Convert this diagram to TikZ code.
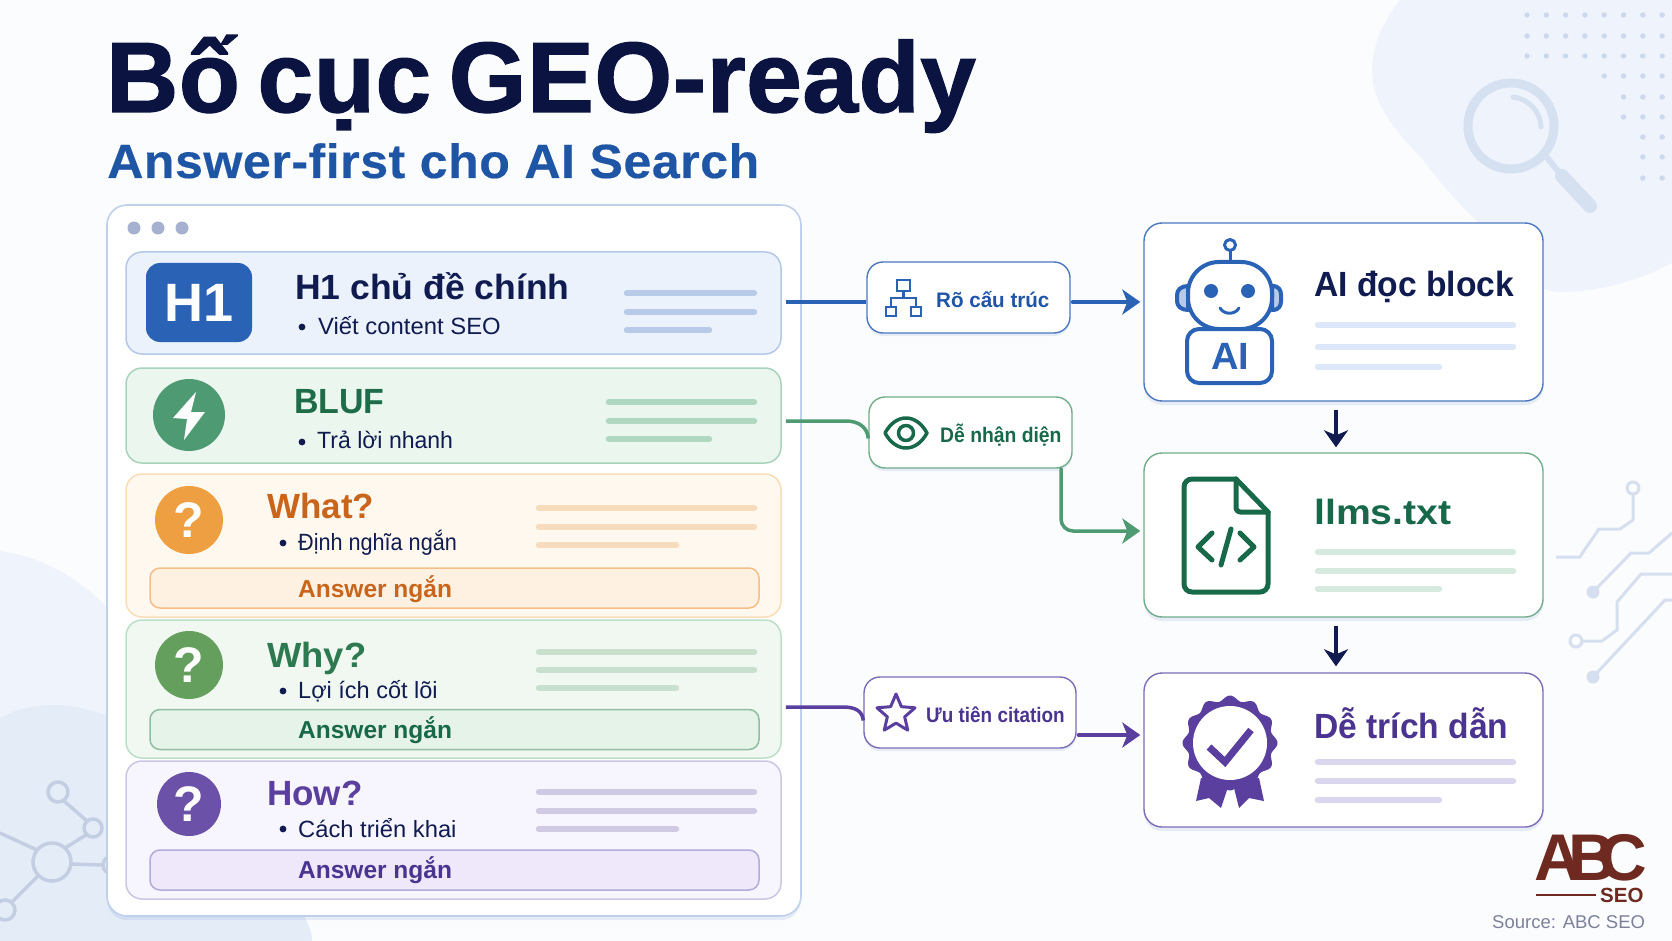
\documentclass[tikz,border=0pt]{standalone}
\usepackage{fontspec}
\setmainfont{Liberation Sans}
\newfontfamily\titlefont[BoldFeatures={FakeBold=1.3},WordSpace=0.62,LetterSpace=0.6]{Liberation Sans}
\newfontfamily\subtfont[BoldFeatures={FakeBold=0.3},LetterSpace=1]{Liberation Sans}
\usetikzlibrary{arrows.meta,calc,shadows,shapes.geometric}
\definecolor{bgc}{HTML}{FBFCFE}
\definecolor{ink}{HTML}{0B1340}
\definecolor{navy}{HTML}{101B50}
\definecolor{blueM}{HTML}{1F55A5}
\definecolor{blueI}{HTML}{2A62B5}
\definecolor{greenD}{HTML}{17694A}
\definecolor{purpD}{HTML}{4A3490}
\definecolor{purpI}{HTML}{5A3F9E}
\definecolor{deco}{HTML}{D6DFEF}
\definecolor{netc}{HTML}{C3CEE3}
\definecolor{brick}{HTML}{6E2A20}
\definecolor{srcc}{HTML}{7C809B}
\definecolor{blobA}{HTML}{EFF4FC}
\definecolor{blobB}{HTML}{E4ECF8}
\definecolor{dotc}{HTML}{CBD8EE}
\definecolor{magc}{HTML}{D5E0F0}
\definecolor{carde}{HTML}{BFD0EA}
\definecolor{dotg}{HTML}{A5B1CE}
\definecolor{b1}{HTML}{EBF2FC}\definecolor{b2}{HTML}{B4C9E8}\definecolor{b3}{HTML}{B7CBE8}\definecolor{b4}{HTML}{DCE7F7}
\definecolor{g1}{HTML}{EBF6EF}\definecolor{g2}{HTML}{AAD3BC}\definecolor{g3}{HTML}{B0D7C0}\definecolor{g4}{HTML}{4E9A72}\definecolor{g5}{HTML}{1F6D48}\definecolor{g6}{HTML}{D6EADD}
\definecolor{o1}{HTML}{FFF8EF}\definecolor{o2}{HTML}{F9DDB8}\definecolor{o3}{HTML}{F6DCBC}\definecolor{o4}{HTML}{EE9F42}\definecolor{o5}{HTML}{C9651B}\definecolor{o6}{HTML}{FFF1E2}\definecolor{o7}{HTML}{F6BE85}
\definecolor{w1}{HTML}{F0F8F1}\definecolor{w2}{HTML}{BDDFC8}\definecolor{w3}{HTML}{C9E0CF}\definecolor{w4}{HTML}{649F5D}\definecolor{w5}{HTML}{2E7A50}\definecolor{w6}{HTML}{E6F3E8}\definecolor{w7}{HTML}{8FBFA2}
\definecolor{p1}{HTML}{F7F5FD}\definecolor{p2}{HTML}{CCC5E5}\definecolor{p3}{HTML}{D0C9E4}\definecolor{p4}{HTML}{6B52A8}\definecolor{p6}{HTML}{EEE8FA}\definecolor{p7}{HTML}{B3ABD8}\definecolor{p8}{HTML}{DAD6EE}
\definecolor{sg}{HTML}{70AD8A}\definecolor{sp}{HTML}{7D6CB5}\definecolor{sb}{HTML}{4B77BF}
\newcommand{\tl}[7]{% x1 x2 xshort y1 y2 y3 colour
  \draw[#7,line cap=round,line width=6.5pt] (#1,#4)--(#2,#4) (#1,#5)--(#2,#5) (#1,#6)--(#3,#6);}
\newcommand{\blt}[2]{\fill[navy] (#1,#2) circle (3.4);}
\begin{document}
\begin{tikzpicture}[x=1pt,y=-1pt,
  lbl/.style={anchor=base west,inner sep=0pt},
  ttl/.style={lbl,font=\bfseries\fontsize{35}{35}\selectfont},
  sub/.style={lbl,text=navy,font=\fontsize{23.5}{24}\selectfont},
  ans/.style={lbl,font=\bfseries\fontsize{24.5}{25}\selectfont},
  pilltxt/.style={lbl,font=\bfseries\fontsize{21}{22}\selectfont},
  qmark/.style={inner sep=0pt,text=white,font=\bfseries\fontsize{50}{50}\selectfont},
  rowbox/.style={rounded corners=16pt,minimum width=655pt,inner sep=0pt,line width=1.5pt},
  ansbox/.style={rounded corners=10pt,minimum width=609pt,minimum height=40pt,inner sep=0pt,line width=1.5pt},
  sidebox/.style={rounded corners=18pt,minimum width=399pt,inner sep=0pt,fill=white,line width=1.4pt,
     drop shadow={shadow xshift=0pt,shadow yshift=-4pt,opacity=.10,fill=blueI}},
  pill/.style={rounded corners=16pt,minimum height=71pt,inner sep=0pt,fill=white,line width=1.4pt,
     drop shadow={shadow xshift=0pt,shadow yshift=-3pt,opacity=.10,fill=blueI}},
  bar/.style={line cap=round,-{Stealth[length=18pt,width=25pt,inset=5pt]}},
  down/.style={navy,line width=3.2pt,-{Stealth[length=17pt,width=24pt,inset=5pt]}},
]
\useasboundingbox (0,0) rectangle (1672,941);
\fill[bgc] (0,0) rectangle (1672,941);
% background blobs
\fill[blobA] (1400,0) .. controls (1380,25) and (1372,50) .. (1372,70)
  .. controls (1372,105) and (1395,130) .. (1423,160)
  .. controls (1440,182) and (1455,200) .. (1476,220)
  .. controls (1505,260) and (1530,292) .. (1560,292)
  .. controls (1600,292) and (1640,280) .. (1672,263) -- (1672,0) -- cycle;
\fill[blobA] (0,551) .. controls (40,556) and (80,578) .. (107,608) -- (130,941) -- (0,941) -- cycle;
\fill[blobB] (0,718) .. controls (18,708) and (36,705) .. (53,705)
  .. controls (120,705) and (200,760) .. (280,880)
  .. controls (300,910) and (312,925) .. (312,941) -- (0,941) -- cycle;
% dots
\foreach \yy/\first in {15/0,36/0,56/0,76/4,97/5,117/5,137/6,157/6,178/6}{
  \foreach \i in {\first,...,7}{\fill[dotc] ({1527+19.3*\i},\yy) circle (2.7);}}
% magnifier
\begin{scope}[draw=magc]
\draw[line width=9pt] (1511,126) circle (43);
\draw[line width=6pt] (1545,155) -- (1562,176);
\draw[line width=14pt,line cap=round] (1562,176) -- (1590,206);
\draw[line width=5pt,line cap=round] (1513,97) .. controls (1528,99) and (1540,110) .. (1541,127);
\end{scope}
% circuit
\begin{scope}[deco,line width=3pt,line join=round]
\draw (1633,488) circle (6);
\draw (1633,494) -- (1633,520) -- (1620,529) -- (1599,529) -- (1583,552) -- (1580,557) -- (1556,557);
\fill (1593,592) circle (6.5);
\draw (1593,592) -- (1631,553) -- (1649,553) -- (1672,533);
\draw (1576,641) circle (6);
\draw (1582,641) -- (1602,641) -- (1617,630) -- (1617,602) -- (1641,574) -- (1672,574);
\fill (1593,677) circle (6.5);
\draw (1593,677) -- (1665,600) -- (1672,600);
\end{scope}
% network
\begin{scope}[draw=netc,line width=3.5pt]
\draw (58,792) circle (10);
\draw (93,828) circle (9);
\draw (52,862) circle (19);
\draw (5,910) circle (10);
\draw (64,801) -- (87,821);
\draw (86,835) -- (65,848);
\draw (0,833) -- (37,850);
\draw (71,864) -- (103,865);
\draw (38,876) -- (12,902);
\draw (112,865) circle (9);
\end{scope}
% titles
\node[lbl,text=ink,font=\titlefont\bfseries\fontsize{100}{100}\selectfont] (title) at (106,112) {Bố cục GEO-ready};
\node[lbl,text=blueM,font=\subtfont\bfseries\fontsize{48}{48}\selectfont] (subtitle) at (107,178) {\scalebox{1.045}[1]{Answer-first cho AI Search}};
% card
\node[rounded corners=20pt,minimum width=694pt,minimum height=711pt,inner sep=0pt,fill=white,draw=carde,line width=1.6pt,
  drop shadow={shadow xshift=0pt,shadow yshift=-4pt,opacity=.10,fill=blueI}] (card) at (454,560.5) {};
\foreach \x in {134,158,182}{\fill[dotg] (\x,228) circle (6.5);}
% row 1
\node[rowbox,minimum height=102pt,fill=b1,draw=b2] (row1) at (453.5,303) {};
\node[rounded corners=14pt,minimum width=106pt,minimum height=79pt,inner sep=0pt,fill=blueI,text=white,font=\bfseries\fontsize{54}{54}\selectfont] (h1) at (199,302.5) {H1};
\node[ttl,text=navy] (t1) at (295,299.5) {\scalebox{1.015}[1]{H1 chủ đề chính}};
\blt{302}{327}
\node[sub] (s1) at (318,334) {\scalebox{1.015}[1]{Viết content SEO}};
\tl{627}{754}{709}{293}{312}{330}{b3}
% row 2
\node[rowbox,minimum height=95pt,fill=g1,draw=g2] (row2) at (453.5,415.5) {};
\node[circle,minimum size=72pt,inner sep=0pt,fill=g4] (bolt) at (189,415) {};
\fill[white,line join=round] (196,392) -- (173,418) -- (187,419) -- (184,440) -- (205,412) -- (191,412) -- cycle;
\node[ttl,text=g5] (t2) at (294,413) {\scalebox{.97}[1]{BLUF}};
\blt{302}{442}
\node[sub] (s2) at (317,448) {\scalebox{.98}[1]{Trả lời nhanh}};
\tl{609}{754}{709}{402}{421}{439}{g3}
% row 3
\node[rowbox,minimum height=143pt,fill=o1,draw=o2] (row3) at (453.5,545.5) {};
\node[circle,minimum size=68pt,fill=o4,qmark] (q3) at (189,520) {?};
\node[ttl,text=o5] (t3) at (267,518) {What?};
\blt{283}{543}
\node[sub] (s3) at (298,550) {\scalebox{.92}[1]{Định nghĩa ngắn}};
\tl{539}{754}{676}{508}{527}{545}{o3}
\node[ansbox,fill=o6,draw=o7] (a3) at (454.5,588) {};
\node[ans,text=o5] (at3) at (298,597) {Answer ngắn};
% row 4
\node[rowbox,minimum height=138pt,fill=w1,draw=w2] (row4) at (453.5,689) {};
\node[circle,minimum size=68pt,fill=w4,qmark] (q4) at (189,665) {?};
\node[ttl,text=w5] (t4) at (267,667) {\scalebox{1.04}[1]{Why?}};
\blt{283}{691}
\node[sub] (s4) at (298,698) {Lợi ích cốt lõi};
\tl{539}{754}{676}{652}{670}{688}{w3}
\node[ansbox,fill=w6,draw=w7] (a4) at (454.5,729.5) {};
\node[ans,text=greenD] (at4) at (298,738) {Answer ngắn};
% row 5
\node[rowbox,minimum height=138pt,fill=p1,draw=p2] (row5) at (453.5,830) {};
\node[circle,minimum size=64pt,fill=p4,qmark] (q5) at (189,804) {?};
\node[ttl,text=purpI] (t5) at (267,805) {How?};
\blt{283}{829}
\node[sub] (s5) at (298,837) {\scalebox{1.01}[1]{Cách triển khai}};
\tl{539}{754}{676}{792}{811}{829}{p3}
\node[ansbox,fill=p6,draw=p7] (a5) at (454.5,870) {};
\node[ans,text=purpD] (at5) at (298,878) {Answer ngắn};
% side boxes
\node[sidebox,minimum height=178pt,draw=sb] (box1) at (1343.5,312) {};
\node[sidebox,minimum height=164pt,draw=sg] (box2) at (1343.5,535) {};
\node[sidebox,minimum height=154pt,draw=sp] (box3) at (1343.5,750) {};
\node[ttl,text=navy] (bt1) at (1314,296) {\scalebox{.96}[1]{AI đọc block}};
\node[ttl,text=greenD] (bt2) at (1314,524) {\scalebox{1.12}[1]{llms.txt}};
\node[ttl,text=purpD] (bt3) at (1314,738) {\scalebox{.96}[1]{Dễ trích dẫn}};
\tl{1318}{1513}{1439}{325}{347}{367}{b4}
\tl{1318}{1513}{1439}{552}{571}{589}{g6}
\tl{1318}{1513}{1439}{762}{781}{800}{p8}
% pills
\node[pill,minimum width=203pt,draw=sb] (pill1) at (968.5,297.5) {};
\node[pill,minimum width=203pt,draw=sg] (pill2) at (970.5,432.5) {};
\node[pill,minimum width=212pt,draw=sp] (pill3) at (970,712.5) {};
\node[pilltxt,text=blueM] (pt1) at (936,307) {\scalebox{.98}[1]{Rõ cấu trúc}};
\node[pilltxt,text=greenD] (pt2) at (940,442) {\scalebox{.92}[1]{Dễ nhận diện}};
\node[pilltxt,text=purpD] (pt3) at (926,722) {\scalebox{.9}[1]{Ưu tiên citation}};
% connectors
\draw[blueI,line width=4pt] ([shift={(4pt,1pt)}]row1.east) -- ([yshift=-4.5pt]pill1.west);
\draw[blueI,line width=4pt,bar] ([yshift=-4.5pt,xshift=2pt]pill1.east) -- ([shift={(-3pt,10pt)}]box1.west);
\draw[g4,line width=3.5pt] ([shift={(4pt,-5.5pt)}]row2.east) -- ++(60,0) .. controls +(12,0) and +(-1,-12) .. ([yshift=-6pt]pill2.west);
\draw[g4,line width=3.5pt,bar,rounded corners=12pt] ([xshift=90.5pt]pill2.south) |- ([shift={(-3pt,4pt)}]box2.west);
\draw[purpI,line width=3.5pt] ([shift={(4pt,-18pt)}]row4.east) -- ++(57,0) .. controls +(12,0) and +(-1,-10) .. ([yshift=-8pt]pill3.west);
\draw[purpI,line width=4pt,bar] ([yshift=-22.5pt,xshift=2pt]pill3.east) -- ([shift={(-3pt,15pt)}]box3.west);
\draw[down] ([shift={(-7.5pt,-8pt)}]box1.south) -- ([shift={(-7.5pt,5pt)}]box2.north);
\draw[down] ([shift={(-7.5pt,-8pt)}]box2.south) -- ([shift={(-7.5pt,6pt)}]box3.north);
% org icon
\begin{scope}[blueI,line width=2.6pt]
\draw (897,280) rectangle (910,291);
\draw (903.5,291) -- (903.5,298) (891,307) -- (891,298) -- (916,298) -- (916,307);
\draw (886,307) rectangle (896,316);
\draw (911,307) rectangle (921,316);
\end{scope}
% eye icon
\begin{scope}[greenD,line width=3.5pt,line join=round]
\draw (885,433) .. controls (896,413) and (916,413) .. (927,433) .. controls (916,453) and (896,453) .. (885,433) -- cycle;
\draw (906,433) circle (7.5);
\end{scope}
% star icon
\node[star,star points=5,star point ratio=2.2,draw=purpI,line width=3pt,line join=round,minimum size=40pt,inner sep=0pt] (starI) at (896,714) {};
% robot
\begin{scope}[blueI,line width=4pt,line join=round]
\draw[line width=3pt] (1230,245) circle (5.5);
\draw[line width=3pt] (1230,251) -- (1230,262);
\draw[fill=b3] (1188,286) .. controls (1181,286) and (1177,290) .. (1177,295) -- (1177,301) .. controls (1177,306) and (1181,310) .. (1188,310) -- cycle;
\draw[fill=b3] (1272,286) .. controls (1279,286) and (1281,290) .. (1281,295) -- (1281,301) .. controls (1281,306) and (1279,310) .. (1272,310) -- cycle;
\draw[fill=white,rounded corners=31pt] (1188,262) rectangle (1272,329);
\draw[fill=white,rounded corners=12pt] (1187,329) rectangle (1272,383);
\fill (1211,291) circle (7);
\fill (1248,291) circle (7);
\draw[line width=3pt,line cap=round] (1220,308) .. controls (1224,315) and (1235,315) .. (1239,308);
\end{scope}
\node[inner sep=0pt,text=blueI,font=\bfseries\fontsize{38}{38}\selectfont] (ai) at (1230,356) {AI};
% file icon
\begin{scope}[greenD,line width=5pt,line join=round,line cap=round]
\draw[rounded corners=8pt] (1236,479) -- (1184,479) -- (1184,592) -- (1268,592) -- (1268,512);
\draw (1236,479) -- (1268,512);
\draw[rounded corners=4pt] (1236,479) -- (1236,512) -- (1268,512);
\draw (1212,533) -- (1198,547) -- (1212,560);
\draw (1240,533) -- (1254,547) -- (1240,560);
\draw (1231,529) -- (1221,565);
\end{scope}
% badge
\fill[purpI] (1201,778) -- (1196,801) -- (1209,798) -- (1221,808) -- (1229,784) -- cycle;
\fill[purpI] (1259,778) -- (1264,801) -- (1249,798) -- (1239,808) -- (1233,784) -- cycle;
\fill[purpI] plot[domain=0:360,samples=144,smooth] ({1230+(45+2.5*cos(12*\x))*cos(\x)},{743+(45+2.5*cos(12*\x))*sin(\x)}) -- cycle;
\fill[white] (1230,743) circle (37);
\draw[purpI,line width=7pt,line join=miter] (1209,747) -- (1225,762) -- (1251,730);
% logo
\node[lbl,text=brick,font=\bfseries\fontsize{66}{66}\selectfont] (abc) at (1534,880) {A\kern-13pt B\kern-17pt C};
\draw[brick,line width=2pt] (1536,895) -- (1596,895);
\node[lbl,text=brick,font=\bfseries\fontsize{20.5}{21}\selectfont] (seo) at (1600,902) {SEO};
\node[lbl,text=srcc,font=\fontsize{18.5}{19}\selectfont] (src) at (1492,928) {Source: ABC SEO};
\end{tikzpicture}
\end{document}
